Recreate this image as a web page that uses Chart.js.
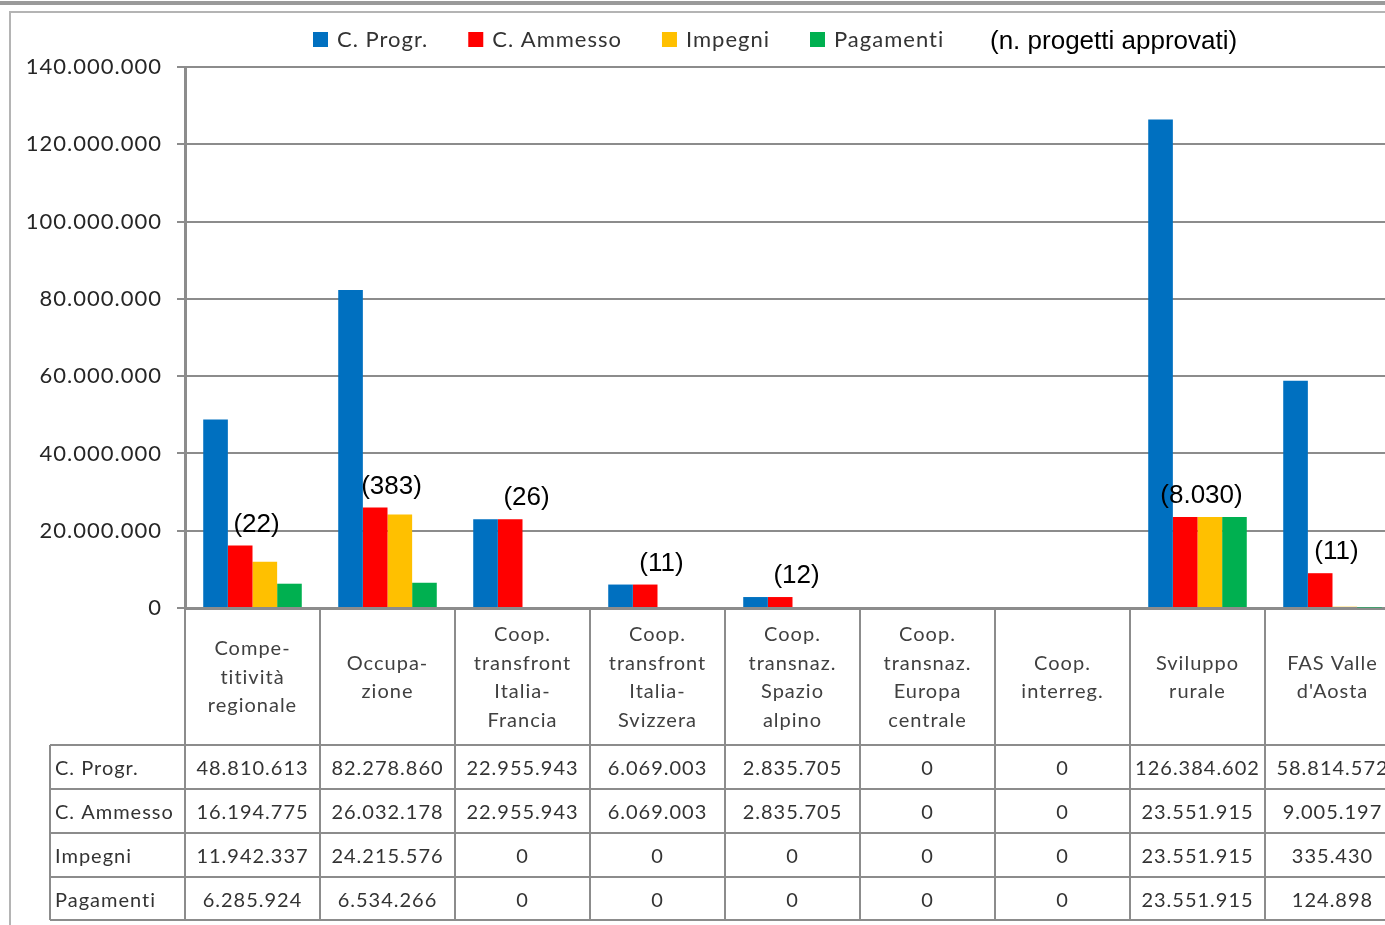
<!DOCTYPE html>
<html lang="it">
  <head>
    <meta charset="UTF-8" />
    <title>Programmi - costo e avanzamento</title>
    <style>
      html, body {
        margin: 0;
        padding: 0;
        background: #fff;
        overflow: hidden;
      }
      #wrap {
        position: absolute;
        left: 0;
        top: 0;
      }
    </style>
  </head>
  <body>
    <div id="wrap"><canvas id="chart" width="1400" height="925"></canvas></div>

    <script src="https://cdn.jsdelivr.net/npm/chart.js"></script>
    <script>
      const categories = [
        ["Compe-", "titività", "regionale"],
        ["Occupa-", "zione"],
        ["Coop.", "transfront", "Italia-", "Francia"],
        ["Coop.", "transfront", "Italia-", "Svizzera"],
        ["Coop.", "transnaz.", "Spazio", "alpino"],
        ["Coop.", "transnaz.", "Europa", "centrale"],
        ["Coop.", "interreg."],
        ["Sviluppo", "rurale"],
        ["FAS Valle", "d'Aosta"],
      ];

      const seriesNames = ["C. Progr.", "C. Ammesso", "Impegni", "Pagamenti"];
      const seriesColors = ["#0070C0", "#FF0000", "#FFC000", "#00B050"];

      const costoProgr = [48810613, 82278860, 22955943, 6069003, 2835705, 0, 0, 126384602, 58814572];
      const costoAmmesso = [16194775, 26032178, 22955943, 6069003, 2835705, 0, 0, 23551915, 9005197];
      const impegni = [11942337, 24215576, 0, 0, 0, 0, 0, 23551915, 335430];
      const pagamenti = [6285924, 6534266, 0, 0, 0, 0, 0, 23551915, 124898];

      // numero progetti approvati (tra parentesi sopra le barre)
      const progetti = [22, 383, 26, 11, 12, null, null, 8030, 11];

      const yTicks = [0, 20000000, 40000000, 60000000, 80000000, 100000000, 120000000, 140000000];

      const allSeries = [costoProgr, costoAmmesso, impegni, pagamenti];

      function fmt(n) {
        return String(n).replace(/\B(?=(\d{3})+(?!\d))/g, ".");
      }

      const calibri = "Lato, 'Open Sans', sans-serif";
      const arial = "'Liberation Sans', Arial, sans-serif";

      const framePlugin = {
        id: "frame",
        beforeDraw(chart) {
          const ctx = chart.ctx;
          ctx.save();
          ctx.fillStyle = "#fff";
          ctx.fillRect(0, 0, chart.width, chart.height);
          ctx.fillStyle = "#9a9a9a";
          ctx.fillRect(0, 1, chart.width, 4);
          ctx.strokeStyle = "#b4b4b4";
          ctx.lineWidth = 2;
          ctx.beginPath();
          ctx.moveTo(10, chart.height);
          ctx.lineTo(10, 12);
          ctx.lineTo(chart.width, 12);
          ctx.stroke();
          ctx.restore();
          // testo "calibri" un po' spaziato, come nell'originale
          ctx.letterSpacing = "1px";
        },
      };

      const tablePlugin = {
        id: "table",
        afterDraw(chart) {
          const ctx = chart.ctx;
          const xs = chart.scales.x;
          const ys = chart.scales.y;
          const area = chart.chartArea;
          ctx.save();
          ctx.letterSpacing = "1px";

          // legend
          ctx.font = "22px " + calibri;
          ctx.textBaseline = "middle";
          ctx.textAlign = "left";
          let lx = 313;
          seriesNames.forEach((name, i) => {
            ctx.fillStyle = seriesColors[i];
            ctx.fillRect(lx, 32, 15, 15);
            ctx.fillStyle = "#333";
            ctx.fillText(name, lx + 24, 40);
            lx += 24 + ctx.measureText(name).width + 40;
          });

          ctx.letterSpacing = "0px";
          ctx.font = "26px " + arial;
          ctx.fillStyle = "#000";
          ctx.fillText("(n. progetti approvati)", 990, 42);

          // numero progetti
          ctx.textAlign = "center";
          progetti.forEach((p, i) => {
            if (p === null) return;
            const cx = xs.getPixelForValue(i) + 4;
            const top = ys.getPixelForValue(costoAmmesso[i]);
            ctx.fillText("(" + fmt(p) + ")", cx, top - 21);
          });

          // etichette categorie
          ctx.letterSpacing = "1px";
          ctx.font = "20px " + calibri;
          ctx.fillStyle = "#404040";
          const headMid = (area.bottom + 745) / 2 + 1;
          categories.forEach((lines, i) => {
            const cx = xs.getPixelForValue(i);
            const lh = 28.5;
            const y0 = headMid - ((lines.length - 1) * lh) / 2;
            lines.forEach((t, k) => ctx.fillText(t, cx, y0 + k * lh));
          });

          // tabella dati
          const rowTop = 745;
          const rowH = 44;
          ctx.strokeStyle = "#8c8c8c";
          ctx.lineWidth = 2;
          ctx.beginPath();
          for (let r = 0; r <= seriesNames.length; r++) {
            const y = rowTop + r * rowH - (r === 4 ? 1 : 0);
            ctx.moveTo(50, y);
            ctx.lineTo(chart.width, y);
          }
          ctx.moveTo(50, rowTop);
          ctx.lineTo(50, rowTop + 4 * rowH - 1);
          ctx.stroke();

          ctx.fillStyle = "#333";
          seriesNames.forEach((name, r) => {
            const y = rowTop + r * rowH + rowH / 2 + 2;
            ctx.textAlign = "left";
            ctx.fillText(name, 55, y);
            ctx.textAlign = "center";
            allSeries[r].forEach((v, i) => {
              ctx.fillText(fmt(v), xs.getPixelForValue(i), y);
            });
          });
          ctx.restore();
        },
      };

      new Chart(document.getElementById("chart"), {
        type: "bar",
        data: {
          labels: categories.map((c) => c.join(" ")),
          datasets: seriesNames.map((name, i) => ({
            label: name,
            data: allSeries[i],
            backgroundColor: seriesColors[i],
            borderWidth: 0,
            categoryPercentage: 0.73,
            barPercentage: 1.0,
          })),
        },
        options: {
          responsive: false,
          animation: false,
          layout: { padding: { top: 67, left: 0, right: 0, bottom: 0 } },
          plugins: {
            legend: { display: false },
            tooltip: { enabled: false },
          },
          scales: {
            x: {
              afterFit(scale) {
                scale.height = 317;
              },
              grid: {
                drawOnChartArea: false,
                drawTicks: true,
                tickLength: 312,
                color: "#8c8c8c",
                lineWidth: 2,
              },
              border: { color: "#8c8c8c", width: 3 },
              ticks: { display: false },
            },
            y: {
              min: 0,
              max: 140000000,
              afterFit(scale) {
                scale.width = 185;
              },
              afterBuildTicks(scale) {
                scale.ticks = yTicks.map((v) => ({ value: v }));
              },
              grid: {
                color: "#8c8c8c",
                lineWidth: 2,
                tickLength: 8,
              },
              border: { color: "#8c8c8c", width: 3 },
              ticks: {
                padding: 15,
                color: "#262626",
                font: { family: calibri, size: 22 },
                callback: (v) => fmt(v),
              },
            },
          },
        },
        plugins: [framePlugin, tablePlugin],
      });
    </script>
  </body>
</html>
